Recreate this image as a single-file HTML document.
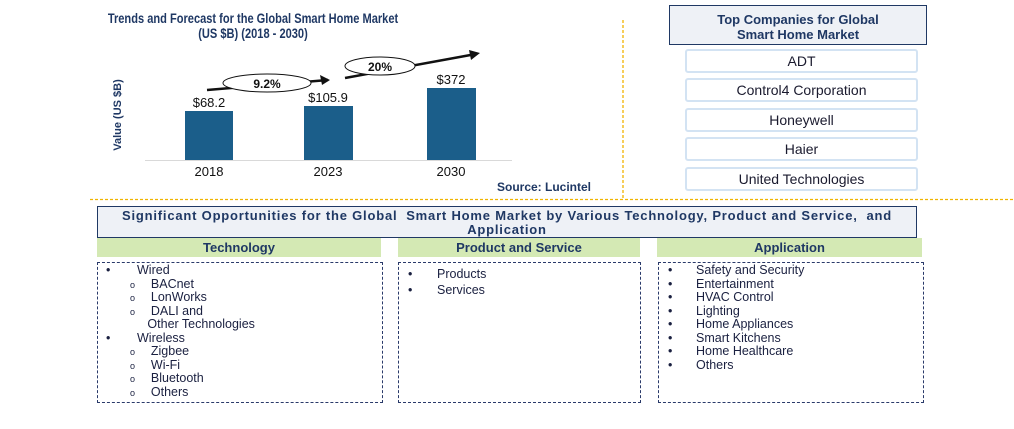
<!DOCTYPE html>
<html><head><style>
body{margin:0;width:1014px;height:429px;background:#fff;position:relative;overflow:hidden;font-family:"Liberation Sans",Arial,sans-serif}
.a{position:absolute}
.t{color:#1f3864;font-weight:bold}
.co{position:absolute;left:685px;width:229px;height:20px;border:2px solid #d3e3f3;border-radius:3px;text-align:center;font-size:14px;line-height:20px;color:#1a1a2e}
.gh{position:absolute;top:238px;height:19px;background:#d4e9b4;text-align:center;font-size:13px;font-weight:bold;color:#1f3864;line-height:19px}
.db{position:absolute;top:262px;height:139px;border:1px dashed #2a3a6a}
.li{position:absolute;font-size:12.5px;color:#1a2040;white-space:nowrap}
</style></head><body>
<div class="a t" style="left:53px;width:400px;top:11px;text-align:center;font-size:13.5px;line-height:15px;white-space:nowrap;transform:scaleX(0.82);transform-origin:200px 0">Trends and Forecast for the Global Smart Home Market<br>(US $B) (2018 - 2030)</div>
<svg class="a" style="left:0;top:0" width="1014" height="429">
<line x1="145" y1="160.5" x2="512" y2="160.5" stroke="#d9d9d9"/>
<rect x="185" y="111" width="48" height="49" fill="#1b5e8a"/>
<rect x="304" y="106" width="49" height="54" fill="#1b5e8a"/>
<rect x="427" y="88" width="49" height="72" fill="#1b5e8a"/>
<g font-size="13" fill="#111" text-anchor="middle">
<text x="209" y="107">$68.2</text><text x="328" y="102">$105.9</text><text x="451" y="84">$372</text>
<text x="209" y="176">2018</text><text x="328" y="176">2023</text><text x="451" y="176">2030</text>
</g>
<line x1="207" y1="90" x2="328" y2="80" stroke="#111" stroke-width="2.5"/>
<polygon points="330,80 320,75 322,85" fill="#111"/>
<ellipse cx="267" cy="83" rx="44" ry="9" fill="#fff" stroke="#111"/>
<text x="267" y="88" font-size="12" font-weight="bold" text-anchor="middle" fill="#111">9.2%</text>
<line x1="345" y1="78" x2="476" y2="54" stroke="#111" stroke-width="2.5"/>
<polygon points="480,53 469,50 471,60" fill="#111"/>
<ellipse cx="380" cy="66" rx="35" ry="9" fill="#fff" stroke="#111"/>
<text x="380" y="71" font-size="12" font-weight="bold" text-anchor="middle" fill="#111">20%</text>
<text transform="translate(121,115) rotate(-90)" font-size="11" font-weight="bold" fill="#1f3864" text-anchor="middle">Value (US $B)</text>
<text x="497" y="191" font-size="12" font-weight="bold" fill="#1f3864">Source: Lucintel</text>
<line x1="623" y1="20" x2="623" y2="198" stroke="#f0b400" stroke-width="1.3" stroke-dasharray="3,2"/>
<line x1="90" y1="199.5" x2="1014" y2="199.5" stroke="#f0b400" stroke-width="1.3" stroke-dasharray="3,2"/>
</svg>
<div class="a t" style="left:669px;top:5px;width:258px;background:#eef1f6;border:1px solid #1f3864;text-align:center;font-size:13px;line-height:15px;padding-top:6px;box-sizing:border-box;height:40px">Top Companies for Global<br>Smart Home Market</div>
<div class="co" style="top:49px">ADT</div>
<div class="co" style="top:78px">Control4 Corporation</div>
<div class="co" style="top:108px">Honeywell</div>
<div class="co" style="top:137px">Haier</div>
<div class="co" style="top:167px">United Technologies</div>
<div class="a t" style="left:97px;top:206px;width:820px;border:1px solid #1f3864;background:#eef1f6;text-align:center;font-size:13px;letter-spacing:0.8px;line-height:14px;padding-top:2px;box-sizing:border-box;height:32px;white-space:nowrap">Significant Opportunities for the Global&nbsp; Smart Home Market by Various Technology, Product and Service,&nbsp; and<br>Application</div>
<div class="gh" style="left:97px;width:284px">Technology</div>
<div class="gh" style="left:398px;width:242px">Product and Service</div>
<div class="gh" style="left:657px;width:265px">Application</div>
<div class="db" style="left:97px;width:284px"></div>
<div class="db" style="left:398px;width:241px"></div>
<div class="db" style="left:658px;width:264px"></div>
<div class="li" style="left:106px;top:264px;line-height:13.5px">•<br><br><br><br><br>•</div>
<div class="li" style="left:130px;top:265px;line-height:13.5px;font-size:9px">&nbsp;<br>o<br>o<br>o<br><br><br>o<br>o<br>o<br>o</div>
<div class="li" style="left:137px;top:264px;line-height:13.5px">Wired<br>&nbsp;&nbsp;&nbsp;&nbsp;BACnet<br>&nbsp;&nbsp;&nbsp;&nbsp;LonWorks<br>&nbsp;&nbsp;&nbsp;&nbsp;DALI and<br>&nbsp;&nbsp;&nbsp;Other Technologies<br>Wireless<br>&nbsp;&nbsp;&nbsp;&nbsp;Zigbee<br>&nbsp;&nbsp;&nbsp;&nbsp;Wi-Fi<br>&nbsp;&nbsp;&nbsp;&nbsp;Bluetooth<br>&nbsp;&nbsp;&nbsp;&nbsp;Others</div>
<div class="li" style="left:408px;top:266px;line-height:16px">•<br>•</div>
<div class="li" style="left:437px;top:266px;line-height:16px">Products<br>Services</div>
<div class="li" style="left:668px;top:264px;line-height:13.5px">•<br>•<br>•<br>•<br>•<br>•<br>•<br>•</div>
<div class="li" style="left:696px;top:264px;line-height:13.5px">Safety and Security<br>Entertainment<br>HVAC Control<br>Lighting<br>Home Appliances<br>Smart Kitchens<br>Home Healthcare<br>Others</div>
</body></html>
